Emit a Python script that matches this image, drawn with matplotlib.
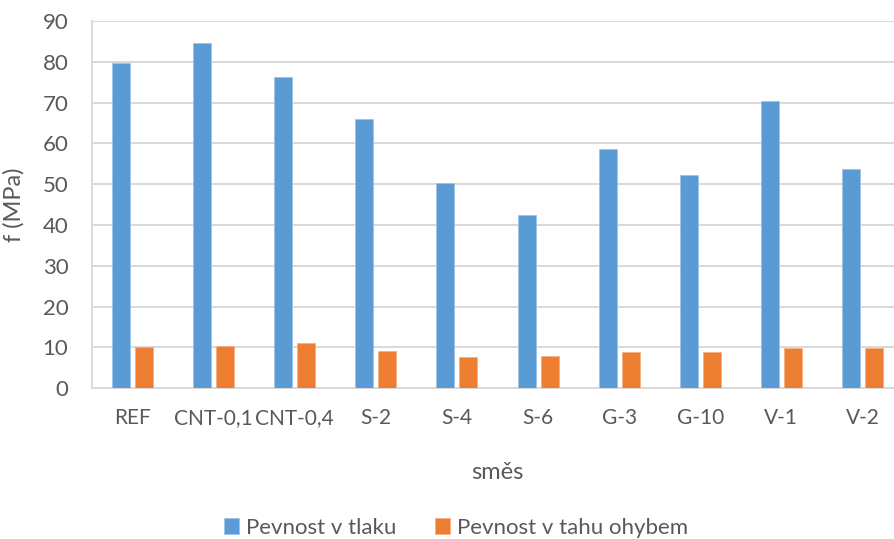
import numpy as np
import matplotlib
matplotlib.use('Agg')
import matplotlib.pyplot as plt

# data
categories = ['REF', 'CNT-0,1', 'CNT-0,4', 'S-2', 'S-4', 'S-6', 'G-3', 'G-10', 'V-1', 'V-2']
tlak = [79.6, 84.6, 76.4, 65.9, 50.4, 42.4, 58.7, 52.3, 70.4, 53.7]
ohyb = [10.0, 10.4, 11.2, 9.1, 7.7, 7.9, 8.9, 9.0, 9.8, 9.9]
series_names = ['Pevnost v tlaku', 'Pevnost v tahu ohybem']
y_ticks = list(range(0, 91, 10))

W, H = 895, 539
txt = '#595959'
grid = '#D9D9D9'
plt.rcParams['font.family'] = ['Lato', 'DejaVu Sans']

fig = plt.figure(figsize=(W / 100, H / 100), dpi=100)
# plot area runs past the right edge (the reference is cropped)
left, right, bottom, top = 92, 903, 388.3, 21
ax = fig.add_axes([left / W, 1 - bottom / H, (right - left) / W, (bottom - top) / H])

x = np.arange(len(categories))
bw = 0.222
ax.bar(x - 0.142, tlak, bw, color='#5B9BD5', edgecolor='#9DC3E6', linewidth=0.6,
       label=series_names[0], zorder=3)
ax.bar(x + 0.142, ohyb, bw, color='#ED7D31', edgecolor='#F4B183', linewidth=0.6,
       label=series_names[1], zorder=3)

ax.set_xlim(-0.5, len(categories) - 0.5)
ax.set_ylim(0, 90)
ax.set_yticks(y_ticks)
ax.set_xticks(x)
ax.set_xticklabels(categories)
ax.tick_params(axis='both', length=0, labelsize=16, colors=txt)
ax.tick_params(axis='x', labelsize=15, pad=14.5)
ax.tick_params(axis='y', pad=17)
ax.yaxis.grid(True, color=grid, linewidth=1.4, zorder=0)
ax.set_axisbelow(True)
for s in ['top', 'right']:
    ax.spines[s].set_visible(False)
ax.spines['left'].set_color(grid)
ax.spines['left'].set_linewidth(1.4)
ax.spines['bottom'].set_color(grid)
ax.spines['bottom'].set_linewidth(1.4)

ax.set_ylabel('f (MPa)', fontsize=17, color=txt)
ax.yaxis.set_label_coords(-0.0826, 0.5)
ax.set_xlabel('směs', fontsize=17, color=txt)
ax.xaxis.set_label_coords(0.5, -0.2)

fig.legend(loc='center', bbox_to_anchor=(456 / W, 1 - 528 / H), ncol=2, frameon=False,
           fontsize=16, labelcolor=txt, handlelength=0.7, handleheight=0.7,
           handletextpad=0.32, columnspacing=1.7)

fig.savefig('out.png', dpi=100)
